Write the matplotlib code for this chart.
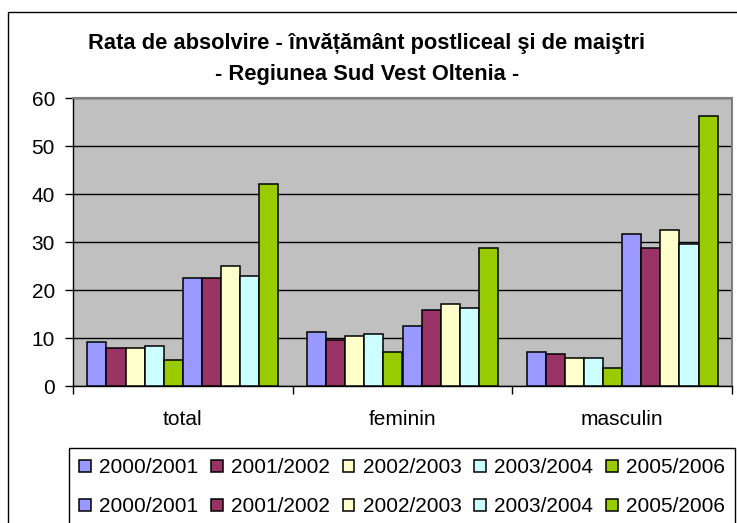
import matplotlib
matplotlib.use("Agg")
import matplotlib.pyplot as plt
from matplotlib.patches import Rectangle
import numpy as np

plt.rcParams['font.family'] = ['Liberation Sans', 'DejaVu Sans']

categories = ['total', 'feminin', 'masculin']
years = ['2000/2001', '2001/2002', '2002/2003', '2003/2004', '2005/2006']
# first set of series
set_a = {
    '2000/2001': [9.1, 11.2, 7.0],
    '2001/2002': [7.85, 9.6, 6.6],
    '2002/2003': [7.85, 10.4, 5.75],
    '2003/2004': [8.3, 10.9, 5.75],
    '2005/2006': [5.4, 7.1, 3.7],
}
# second set of series
set_b = {
    '2000/2001': [22.45, 12.5, 31.6],
    '2001/2002': [22.45, 15.85, 28.7],
    '2002/2003': [25.0, 17.0, 32.45],
    '2003/2004': [22.9, 16.2, 29.55],
    '2005/2006': [42.05, 28.7, 56.2],
}
colors = ['#9999FF', '#993366', '#FFFFCC', '#CCFFFF', '#99CC00']
title_lines = ['Rata de absolvire - învățământ postliceal şi de maiştri',
               '- Regiunea Sud Vest Oltenia -']

W, H = 737, 523
fig = plt.figure(figsize=(W / 100, H / 100), dpi=100)
ax = fig.add_axes([73 / W, 1 - 386 / H, (732 - 73) / W, (386 - 98) / H])
ax.set_facecolor('#C0C0C0')

x = np.arange(len(categories))
nb = 10
w = 1 / 11.5
series = [(set_a, y, c) for y, c in zip(years, colors)] + \
         [(set_b, y, c) for y, c in zip(years, colors)]
handles = []
for j, (s, y, c) in enumerate(series):
    b = ax.bar(x + (j - (nb - 1) / 2) * w, s[y], width=w, color=c,
               edgecolor='black', linewidth=1.1, label=y, zorder=3)
    handles.append(b)

ax.set_xlim(-0.5, 2.5)
ax.set_ylim(0, 60)
ax.set_yticks(range(0, 61, 10))
ax.yaxis.grid(True, color='black', linewidth=1.0, zorder=1)
ax.set_axisbelow(True)
ax.set_xticks(x)
ax.set_xticklabels(categories)
ax.set_xticks([-0.5, 0.5, 1.5, 2.5], minor=True)
ax.tick_params(axis='x', which='major', length=0, pad=17, labelsize=15)
ax.tick_params(axis='x', which='minor', length=5.5, width=1, direction='out')
ax.tick_params(axis='y', length=5.5, width=1, direction='out', pad=7.5, labelsize=15)
for sp in ['top', 'right']:
    ax.spines[sp].set_color('#808080')
    ax.spines[sp].set_linewidth(1.5)
for sp in ['left', 'bottom']:
    ax.spines[sp].set_color('black')
    ax.spines[sp].set_linewidth(1.0)

# title
fig.text(367 / W, 1 - 48.5 / H, title_lines[0], ha='center', va='baseline',
         fontsize=15.75, fontweight='bold')
fig.text(367 / W, 1 - 80 / H, title_lines[1], ha='center', va='baseline',
         fontsize=15.75, fontweight='bold')

# outer chart frame
fig.patches.append(Rectangle((8 / W, -0.1), 1.2, 1.1 - 12 / H,
                             transform=fig.transFigure, fill=False,
                             edgecolor='black', linewidth=1.0))

# legend: order so rows are the two sets (column-wise fill)
order = []
for k in range(5):
    order += [handles[k], handles[k + 5]]
leg = fig.legend(handles=order, labels=[h.get_label() for h in order],
                 ncol=5, loc='upper left',
                 bbox_to_anchor=(69 / W, 1 - 448 / H),
                 bbox_transform=fig.transFigure,
                 fontsize=15, frameon=True, fancybox=False,
                 edgecolor='black', framealpha=1,
                 handlelength=0.55, handleheight=0.55, handletextpad=0.4,
                 columnspacing=0.62, labelspacing=0.95, borderpad=0.5,
                 borderaxespad=0)
leg.get_frame().set_linewidth(1.0)

fig.savefig('out.png', dpi=100)
